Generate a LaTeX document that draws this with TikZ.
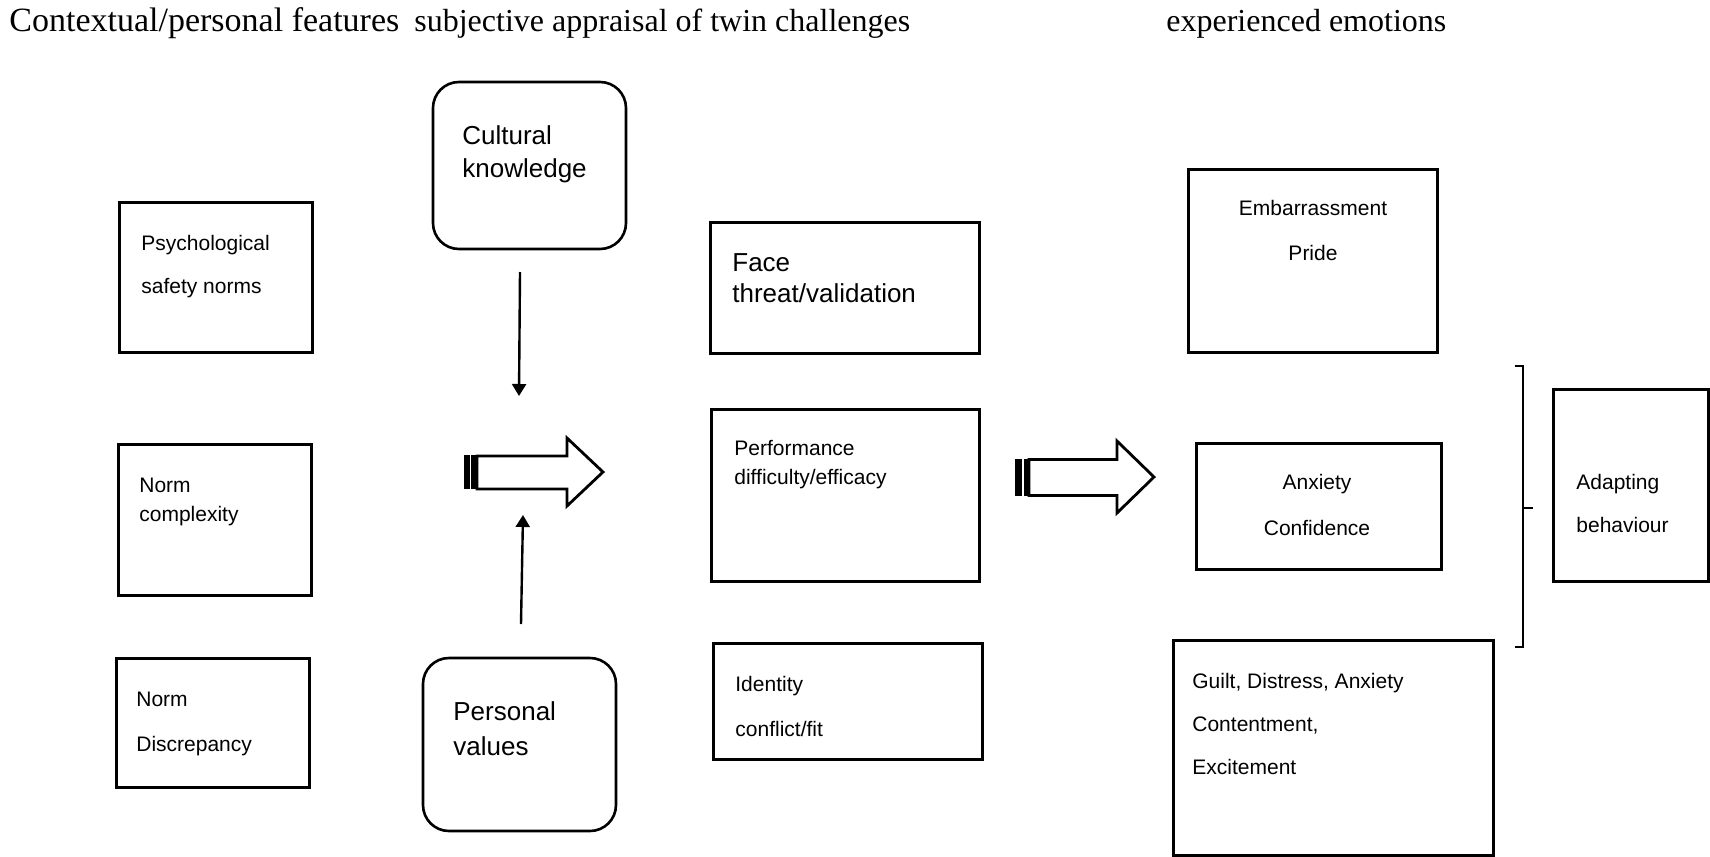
\documentclass[tikz,border=0pt]{standalone}
\usepackage{fontspec}
\setmainfont{Liberation Serif}
\newfontfamily\arial{Liberation Sans}
\usetikzlibrary{arrows.meta}

\tikzset{
  px/.style={x=0.5pt,y=-0.5pt},
  sz/.style 2 args={minimum width=#1*0.5pt, minimum height=#2*0.5pt},
  box/.style={draw, line width=1.5pt, inner sep=0pt},
  rbox/.style={draw, line width=1.3pt, rounded corners=13pt, inner sep=0pt},
  title/.style={anchor=base west, inner sep=0pt, font=\fontsize{16}{19}\selectfont},
  small/.style={anchor=base west, inner sep=0pt, font=\arial\fontsize{10.5}{12}\selectfont},
  smallc/.style={anchor=base, inner sep=0pt, font=\arial\fontsize{10.5}{12}\selectfont},
  large/.style={anchor=base west, inner sep=0pt, font=\arial\fontsize{13}{15}\selectfont},
  thin/.style={line width=1.2pt, -{Triangle[length=6pt,width=7pt]}},
  blockarrow/.style={draw, line width=1.4pt, line join=miter, fill=white},
  bracket/.style={line width=1.3pt}
}

\begin{document}
\begin{tikzpicture}[px]
\useasboundingbox (0,0) rectangle (1710,857);

% column headings
\node[title, font=\fontsize{17}{20}\selectfont] (h1) at (9,31) {Contextual/personal features};
\node[title] (h2) at (414,31) {subjective appraisal of twin challenges};
\node[title] (h3) at (1166,31) {experienced emotions};

% contextual / personal features
\node[box, sz={193}{150}] (psy) at (215.5,277) {};
\node[small] (psy1) at (141,250) {Psychological};
\node[small] (psy2) at (141,293) {safety norms};

\node[box, sz={193}{151}] (cpx) at (214.5,519.5) {};
\node[small] (cpx1) at (139,492) {Norm};
\node[small] (cpx2) at (139,521) {complexity};

\node[box, sz={193}{129}] (dis) at (212.5,722.5) {};
\node[small] (dis1) at (136,706) {Norm};
\node[small] (dis2) at (136,751) {Discrepancy};

% moderators
\node[rbox, sz={193}{167}] (cul) at (529.5,165.5) {};
\node[large] (cul1) at (462,144) {Cultural};
\node[large] (cul2) at (462,177) {knowledge};

\node[rbox, sz={193}{173}] (per) at (519.5,744.5) {};
\node[large] (per1) at (453,720) {Personal};
\node[large] (per2) at (453,755) {values};

\coordinate (culA) at (520,272);
\coordinate (culB) at (519,396);
\coordinate (perA) at (521,624);
\coordinate (perB) at (523,515);
\draw[thin] (culA) -- (culB);
\draw[thin] (perA) -- (perB);

% striped block arrow into the appraisal column
\fill (464,455) rectangle (477,489);
\draw[white, line width=0.6pt] (470.7,455) -- (470.7,489);
\draw[blockarrow] (477,456) -- (567,456) -- (567,438) -- (603,472)
  -- (567,506) -- (567,489) -- (477,489) -- cycle;

% appraisals
\node[box, sz={269}{131}] (face) at (844.5,287.5) {};
\node[large] (face1) at (732,271) {Face};
\node[large] (face2) at (732,302) {threat/validation};

\node[box, sz={268}{172}] (perf) at (845,495) {};
\node[small] (perf1) at (734,455) {Performance};
\node[small] (perf2) at (734,484) {difficulty/efficacy};

\node[box, sz={269}{116}] (ide) at (847.5,701) {};
\node[small] (ide1) at (735,691) {Identity};
\node[small] (ide2) at (735,736) {conflict/fit};

% striped block arrow into the emotions column
\fill (1015,459) rectangle (1029,496);
\draw[white, line width=0.6pt] (1023,459) -- (1023,496);
\draw[blockarrow] (1029,459.5) -- (1117,459.5) -- (1117,441) -- (1154,477)
  -- (1117,513) -- (1117,495.5) -- (1029,495.5) -- cycle;

% emotions
\node[box, sz={249}{183}] (emb) at (1312.5,260.5) {};
\node[smallc] (emb1) at (1313,215) {Embarrassment};
\node[smallc] (emb2) at (1313,260) {Pride};

\node[box, sz={245}{126}] (anx) at (1318.5,506) {};
\node[smallc] (anx1) at (1317,489) {Anxiety};
\node[smallc] (anx2) at (1317,535) {Confidence};

\node[box, sz={320}{215}] (gui) at (1333,747.5) {};
\node[small] (gui1) at (1192,688) {Guilt, Distress, Anxiety};
\node[small] (gui2) at (1192,731) {Contentment,};
\node[small] (gui3) at (1192,774) {Excitement};

% bracket and behaviour
\draw[bracket] (1515,366) -- (1523,366) -- (1523,647) -- (1515,647);
\draw[bracket] (1523,508) -- (1533,508);

\node[box, sz={155}{192}] (ada) at (1630.5,485) {};
\node[small] (ada1) at (1576,489) {Adapting};
\node[small] (ada2) at (1576,532) {behaviour};
\end{tikzpicture}
\end{document}
